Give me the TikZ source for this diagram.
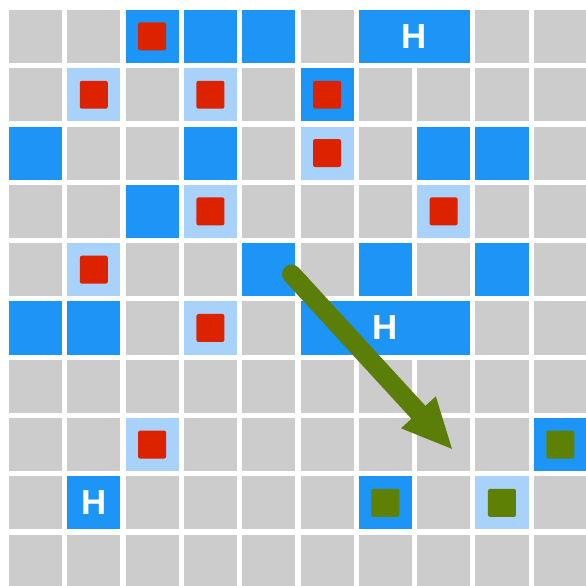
\documentclass[tikz,border=0pt]{standalone}
\usepackage{fontspec}
\setsansfont{Liberation Sans}
\usepackage{tikz}
\usetikzlibrary{calc,positioning,arrows.meta}
\usepackage{xcolor}
\definecolor{cellgray}{HTML}{CCCCCC}
\definecolor{cellblue}{HTML}{1C95F6}
\definecolor{celllight}{HTML}{A8D2FA}
\definecolor{markred}{HTML}{DD2200}
\definecolor{markgreen}{HTML}{5E8004}
\definecolor{arrowgreen}{HTML}{5B7E08}

\begin{document}
\begin{tikzpicture}[x=1cm, y=-1cm,
    cell/.style={rectangle, inner sep=0pt, minimum size=0.91cm, fill=cellgray},
    bluecell/.style={cell, fill=cellblue},
    lightcell/.style={cell, fill=celllight},
    redmark/.style={rectangle, inner sep=0pt, minimum size=0.48cm, fill=markred, rounded corners=1pt},
    greenmark/.style={redmark, fill=markgreen},
    hcell/.style={bluecell, text=white, font=\sffamily\bfseries\fontsize{17}{17}\selectfont}]
  \useasboundingbox[fill=white] (0,0) rectangle (10.05,10.05);
  % gray board
  \foreach \r in {0,...,9} {
    \foreach \c in {0,...,9} {
      \node[cell] (g-\r-\c) at (\c+0.609,\r+0.625) {};
    }
  }
  % blue squares
  \foreach \r/\c in {0/2,0/3,0/4,1/5,2/0,2/3,2/7,2/8,3/2,4/4,4/6,4/8,5/0,5/1,7/9,8/6}
    \node[bluecell] (b-\r-\c) at (g-\r-\c) {};
  \foreach \r/\c in {1/1,1/3,2/5,3/3,3/7,4/1,5/3,7/2,8/8}
    \node[lightcell] (l-\r-\c) at (g-\r-\c) {};
  % wide H cells
  \node[hcell, minimum width=1.91cm] (h-top) at ($(g-0-6)!0.5!(g-0-7)$) {H};
  \node[hcell, minimum width=2.91cm] (h-mid) at (g-5-6) {H};
  \node[hcell] (h-low) at (g-8-1) {H};
  % marks
  \foreach \r/\c in {0/2,1/1,1/3,1/5,2/5,3/3,3/7,4/1,5/3,7/2}
    \node[redmark] (r-\r-\c) at (g-\r-\c) {};
  \foreach \r/\c in {7/9,8/6,8/8}
    \node[greenmark] (m-\r-\c) at (g-\r-\c) {};
  % move
  \coordinate (tail) at (4.889,4.580);
  \coordinate (tip) at (7.770,7.719);
  \draw[arrowgreen, line width=9.3pt, {Round Cap[]}-{Triangle[length=25pt,width=21pt]}] (tail) -- (tip);
\end{tikzpicture}
\end{document}
